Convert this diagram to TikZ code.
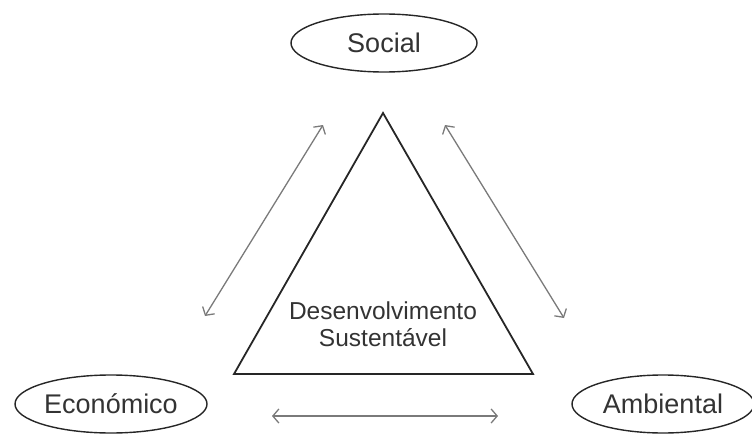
\documentclass[tikz,border=0pt]{standalone}
\usepackage{fontspec}
\setmainfont{Liberation Sans}
\usetikzlibrary{arrows.meta,shapes.geometric}
\definecolor{txt}{HTML}{333333}
\definecolor{arr}{HTML}{7A7A7A}
\tikzset{
  pillar/.style={draw=black!85, line width=1.4pt, ellipse, minimum width=#1, minimum height=58pt, inner sep=0pt, text=txt, font=\fontsize{27}{30}\selectfont},
  link/.style={draw=arr, line width=1.3pt, {Straight Barb[length=6pt,width=14pt]}-{Straight Barb[length=6pt,width=14pt]}},
  tri/.style={draw=black!85, line width=1.8pt, line join=miter},
  core/.style={text=txt, font=\fontsize{24.5}{27}\selectfont, align=center}
}
\begin{document}
\begin{tikzpicture}[x=1pt,y=-1pt]
\useasboundingbox (0,0) rectangle (752,436);
\node[pillar=186pt] (soc) at (384,43) {Social};
\node[pillar=192pt] (eco) at (111,404) {Económico};
\node[pillar=182pt] (amb) at (663,404) {Ambiental};
\coordinate (ta) at (383,113);
\coordinate (tl) at (234,374);
\coordinate (tr) at (533,374);
\draw[tri] (ta) -- (tl) -- (tr) -- cycle;
\node[core] (ds) at (383,324) {Desenvolvimento\\Sustentável};
\coordinate (l1) at (205,316);
\coordinate (l2) at (323,125);
\coordinate (r1) at (445,125);
\coordinate (r2) at (564,318);
\coordinate (b1) at (272,416);
\coordinate (b2) at (498,416);
\draw[link] (l1) -- (l2);
\draw[link] (r1) -- (r2);
\draw[link] (b1) -- (b2);
\end{tikzpicture}
\end{document}
